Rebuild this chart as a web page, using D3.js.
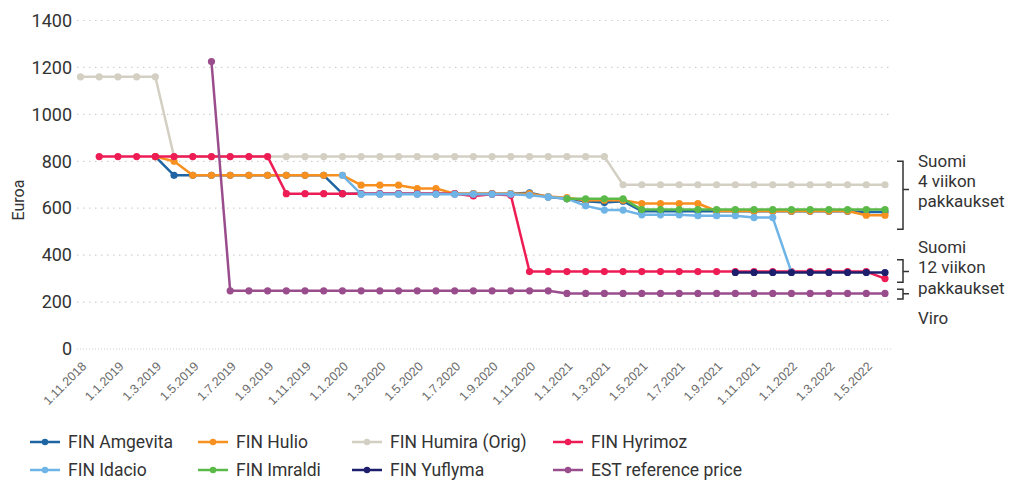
<!DOCTYPE html>
<html>
<head>
<meta charset="utf-8">
<script src="https://cdn.jsdelivr.net/npm/d3@7"></script>
<style>
  body { margin: 0; background: #fff; }
  svg { display: block; font-family: Roboto, "Noto Sans", sans-serif; }
</style>
</head>
<body>
<svg width="1014" height="482"></svg>
<script>
// monthly categories, 1.11.2018 .. 1.6.2022
const months = [
  "1.11.2018","1.12.2018",
  "1.1.2019","1.2.2019","1.3.2019","1.4.2019","1.5.2019","1.6.2019","1.7.2019","1.8.2019","1.9.2019","1.10.2019","1.11.2019","1.12.2019",
  "1.1.2020","1.2.2020","1.3.2020","1.4.2020","1.5.2020","1.6.2020","1.7.2020","1.8.2020","1.9.2020","1.10.2020","1.11.2020","1.12.2020",
  "1.1.2021","1.2.2021","1.3.2021","1.4.2021","1.5.2021","1.6.2021","1.7.2021","1.8.2021","1.9.2021","1.10.2021","1.11.2021","1.12.2021",
  "1.1.2022","1.2.2022","1.3.2022","1.4.2022","1.5.2022","1.6.2022"
];

const tickLabels = [
  "1.11.2018","1.1.2019","1.3.2019","1.5.2019","1.7.2019","1.9.2019","1.11.2019",
  "1.1.2020","1.3.2020","1.5.2020","1.7.2020","1.9.2020","1.11.2020",
  "1.1.2021","1.3.2021","1.5.2021","1.7.2021","1.9.2021","1.11.2021",
  "1.1.2022","1.3.2022","1.5.2022"
];

const yTicks = [0, 200, 400, 600, 800, 1000, 1200, 1400];

const _ = null;
const amgevita = [_,_,_,_,820, 740,740,740,740,740,740,740,740,740, 662,662,662,662,662,662,662,662,662,662, 666,648,640,630,624,630,
  587,587,587,587,587,587,587,587,587,587,587,587,584,584];
const hulio = [_,_,_,_,820,800, 740,740,740,740,740,740,740,740,740, 698,698,698,684,684, 662,662,662,662,662,650,645,634,634,634,
  620,620,620,620, 588,588,588,588,588,588,588,588,570,570];
const humira = [1160,1160,1160,1160,1160, 820,820,820,820,820,820,820,820,820,820,820,820,820,820,820,820,820,820,820,820,820,820,820,820,
  700,700,700,700,700,700,700,700,700,700,700,700,700,700,700];
const hyrimoz = [_,820,820,820,820,820,820,820,820,820,820, 662,662,662,662,662,662,662,662,662,662, 652,660,655,
  330,330,330,330,330,330,330,330,330,330,330,330,330,330,330,330,330,330,330, 300];
const idacio = [_,_,_,_,_,_,_,_,_,_,_,_,_,_, 740, 660,660,660,660,660,660,660,660,660, 655,648,641,610,592,592,
  572,572,572,568,568,568,560,560,327,_,_,_,_,_];
const imraldi = [_,_,_,_,_,_,_,_,_,_,_,_,_,_,_,_,_,_,_,_,_,_,_,_,_,_, 640,640,640,640,
  594,594,594,594,594,594,594,594,594,594,594,594,594,594];
const yuflyma = [_,_,_,_,_,_,_,_,_,_,_,_,_,_,_,_,_,_,_,_,_,_,_,_,_,_,_,_,_,_,_,_,_,_,_, 326,326,326,326,326,326,326,326,326];
const estRef = [_,_,_,_,_,_,_, 1225, 248,248,248,248,248,248,248,248,248,248,248,248,248,248,248,248,248,248,
  237,237,237,237,237,237,237,237,237,237,237,237,237,237,237,237,237,237];

const seriesNames = ["FIN Amgevita","FIN Hulio","FIN Humira (Orig)","FIN Hyrimoz","FIN Idacio","FIN Imraldi","FIN Yuflyma","EST reference price"];
const seriesValues = [amgevita, hulio, humira, hyrimoz, idacio, imraldi, yuflyma, estRef];
const colors = ["#1f64a3","#f7901e","#d4cfc3","#ee1c55","#6fb4e6","#5bb947","#1d1f6d","#9a4d8c"];

const svg = d3.select("svg");

const x = d3.scalePoint().domain(months).range([80.5, 885]);
const y = d3.scaleLinear().domain([0, 1400]).range([349, 20.5]);

// gridlines
svg.append("g")
  .selectAll("line")
  .data(yTicks)
  .join("line")
  .attr("x1", 77).attr("x2", 893)
  .attr("y1", d => y(d)).attr("y2", d => y(d))
  .attr("stroke", "#cfcfcf")
  .attr("stroke-width", 1.2)
  .attr("stroke-dasharray", d => d === 0 ? "1,2" : "1.5,4.5");

// y axis labels
const yAxis = svg.append("g")
  .attr("transform", "translate(72,0)")
  .call(d3.axisLeft(y).tickValues(yTicks).tickSize(0).tickPadding(0).tickFormat(d3.format("d")));
yAxis.select(".domain").remove();
yAxis.selectAll("text")
  .attr("font-family", "Roboto, sans-serif")
  .attr("font-size", 18)
  .attr("fill", "#333");

svg.append("text")
  .attr("transform", "translate(24,200) rotate(-90)")
  .attr("text-anchor", "middle")
  .attr("font-size", 16)
  .attr("fill", "#333")
  .text("Euroa");

// x axis labels
const xAxis = svg.append("g")
  .attr("transform", "translate(0,355)")
  .call(d3.axisBottom(x).tickValues(tickLabels).tickSize(0));
xAxis.select(".domain").remove();
xAxis.selectAll("text")
  .attr("x", 0).attr("y", 0).attr("dy", "0.35em")
  .attr("transform", "translate(3,9) rotate(-45)")
  .style("text-anchor", "end")
  .attr("font-family", "'Liberation Sans', sans-serif")
  .attr("font-size", 12.5)
  .attr("fill", "#6a6a6a");

// series
const line = d3.line()
  .defined(d => d.v !== null)
  .x(d => x(d.m))
  .y(d => y(d.v));

seriesValues.forEach((vals, k) => {
  const pts = vals.map((v, i) => ({ m: months[i], v: v }));
  const g = svg.append("g");
  g.append("path")
    .datum(pts)
    .attr("fill", "none")
    .attr("stroke", colors[k])
    .attr("stroke-width", 2.5)
    .attr("stroke-linejoin", "round")
    .attr("d", line);
  g.selectAll("circle")
    .data(pts.filter(d => d.v !== null))
    .join("circle")
    .attr("cx", d => x(d.m))
    .attr("cy", d => y(d.v))
    .attr("r", 3.6)
    .attr("fill", colors[k]);
});

// brackets and notes on the right
const brackets = [
  { top: 800, bottom: 510, mid: 680 },
  { top: 380, bottom: 285, mid: 330 },
  { top: 255, bottom: 213, mid: 235 }
];
svg.append("g")
  .selectAll("path")
  .data(brackets)
  .join("path")
  .attr("fill", "none")
  .attr("stroke", "#333")
  .attr("stroke-width", 1.5)
  .attr("d", b => `M897,${y(b.top)} H903 V${y(b.bottom)} H897 M903,${y(b.mid)} H909`);

const notes = [
  { text: "Suomi", yy: 167 },
  { text: "4 viikon", yy: 187 },
  { text: "pakkaukset", yy: 207 },
  { text: "Suomi", yy: 253 },
  { text: "12 viikon", yy: 273 },
  { text: "pakkaukset", yy: 294 },
  { text: "Viro", yy: 324 }
];
svg.append("g")
  .selectAll("text")
  .data(notes)
  .join("text")
  .attr("x", 918)
  .attr("y", d => d.yy)
  .attr("font-size", 17)
  .attr("fill", "#333")
  .text(d => d.text);

// legend
const legend = svg.append("g");
const colX = [30, 198, 352, 553];
seriesNames.forEach((name, k) => {
  const lx = colX[k % 4];
  const ly = k < 4 ? 442 : 470;
  const item = legend.append("g").attr("transform", `translate(${lx},${ly})`);
  item.append("line")
    .attr("x1", 0).attr("x2", 30)
    .attr("stroke", colors[k]).attr("stroke-width", 2.5);
  item.append("circle")
    .attr("cx", 15).attr("r", 3.2).attr("fill", colors[k]);
  item.append("text")
    .attr("x", 38).attr("dy", "0.35em")
    .attr("font-size", 17.5)
    .attr("fill", "#333")
    .text(name);
});
</script>
</body>
</html>
